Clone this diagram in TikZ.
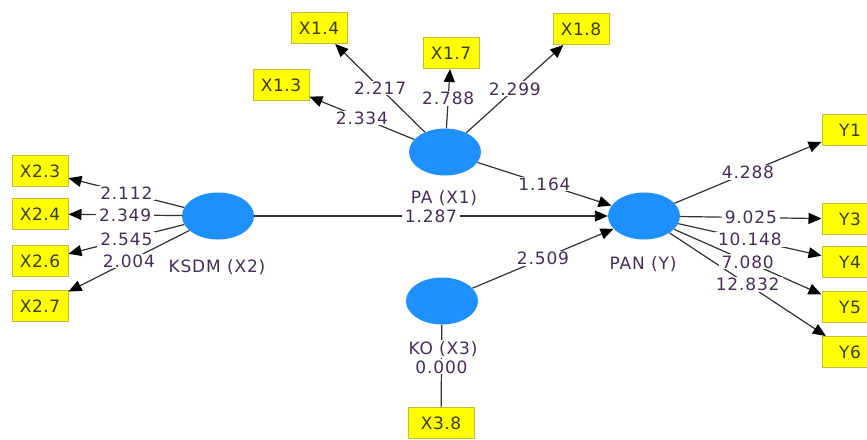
\documentclass[tikz,border=0pt]{standalone}
\usepackage{fontspec}
\setmainfont{DejaVu Sans}
\usetikzlibrary{shapes.geometric,arrows.meta}
\definecolor{lvblue}{RGB}{30,144,255}
\definecolor{indyellow}{RGB}{255,255,0}
\definecolor{indborder}{RGB}{190,190,60}
\definecolor{indtext}{RGB}{60,60,0}
\definecolor{valtext}{RGB}{70,45,90}
\definecolor{linegray}{RGB}{50,50,50}

\begin{document}
\begin{tikzpicture}[
    x=1pt, y=-1pt,
    latent/.style={ellipse, fill=lvblue, minimum width=72pt, minimum height=47pt, inner sep=0pt},
    indicator/.style={rectangle, draw=indborder, line width=1pt, fill=indyellow, text=indtext,
        minimum width=56pt, minimum height=31pt, inner sep=0pt,
        font=\fontsize{17}{17}\selectfont\addfontfeature{LetterSpace=3}},
    lvname/.style={fill=white, inner sep=1pt, text=valtext,
        font=\fontsize{17}{17}\selectfont\addfontfeature{LetterSpace=5}},
    val/.style={fill=white, inner xsep=3pt, inner ysep=1pt, text=valtext,
        font=\fontsize{17}{17}\selectfont\addfontfeature{LetterSpace=5}},
    arr/.style={draw=linegray, line width=1.2pt, -{Triangle[length=13pt,width=11pt,color=black]}},
    link/.style={draw=linegray, line width=1.2pt}
]
    \useasboundingbox (0,0) rectangle (867,439);

    % latent variables
    \node (PA) [latent] at (445,152) {};
    \node (KSDM) [latent] at (218,216) {};
    \node (PAN) [latent] at (644,216) {};
    \node (KO) [latent] at (442,301) {};

    % indicators of PA
    \node (X13) [indicator] at (281,85) {X1.3};
    \node (X14) [indicator] at (319,28) {X1.4};
    \node (X17) [indicator] at (451,53) {X1.7};
    \node (X18) [indicator] at (581,29) {X1.8};

    % indicators of KSDM
    \node (X23) [indicator] at (40,171) {X2.3};
    \node (X24) [indicator] at (40,214) {X2.4};
    \node (X26) [indicator] at (40,261) {X2.6};
    \node (X27) [indicator] at (40,306) {X2.7};

    % indicators of PAN
    \node (Y1) [indicator] at (850,130) {Y1};
    \node (Y3) [indicator] at (850,219) {Y3};
    \node (Y4) [indicator] at (850,262) {Y4};
    \node (Y5) [indicator] at (850,307) {Y5};
    \node (Y6) [indicator] at (850,352) {Y6};

    % indicator of KO
    \node (X38) [indicator, minimum width=66pt] at (441,423) {X3.8};

    % outer loadings
    \draw[arr] (PA) -- (X13);
    \draw[arr] (PA) -- (X14);
    \draw[arr] (PA) -- (X17);
    \draw[arr] (PA) -- (X18);
    \draw[arr] (KSDM) -- (X23);
    \draw[arr] (KSDM) -- (X24);
    \draw[arr] (KSDM) -- (X26);
    \draw[arr] (KSDM) -- (X27);
    \draw[arr] (PAN) -- (Y1);
    \draw[arr] (PAN) -- (Y3);
    \draw[arr] (PAN) -- (Y4);
    \draw[arr] (PAN) -- (Y5);
    \draw[arr] (PAN) -- (Y6);
    \draw[link] (KO) -- (X38);

    % inner paths
    \draw[arr] (PA) -- (PAN);
    \draw[arr] (KSDM) -- (PAN);
    \draw[arr] (KO) -- (PAN);

    % t values
    \path (PA) -- node[val] {2.334} (X13);
    \path (PA) -- node[val] {2.217} (X14);
    \path (PA) -- node[val] {2.788} (X17);
    \path (PA) -- node[val] {2.299} (X18);
    \path (KSDM) -- node[val] {2.112} (X23);
    \path (KSDM) -- node[val] {2.349} (X24);
    \path (KSDM) -- node[val] {2.545} (X26);
    \path (KSDM) -- node[val] {2.004} (X27);
    \path (PAN) -- node[val] {4.288} (Y1);
    \path (PAN) -- node[val] {9.025} (Y3);
    \path (PAN) -- node[val] {10.148} (Y4);
    \path (PAN) -- node[val] {7.080} (Y5);
    \path (PAN) -- node[val] {12.832} (Y6);
    \path (KO) -- node[val, yshift=-1pt] {0.000} (X38);
    \path (PA) -- node[val] {1.164} (PAN);
    \path (KSDM) -- node[val] {1.287} (PAN);
    \path (KO) -- node[val] {2.509} (PAN);

    % names of the latent variables
    \node (PAname) [lvname] at (444,198) {PA (X1)};
    \node (KSDMname) [lvname] at (217,267) {KSDM (X2)};
    \node (PANname) [lvname] at (643,264) {PAN (Y)};
    \node (KOname) [lvname] at (443,349) {KO (X3)};
\end{tikzpicture}
\end{document}
